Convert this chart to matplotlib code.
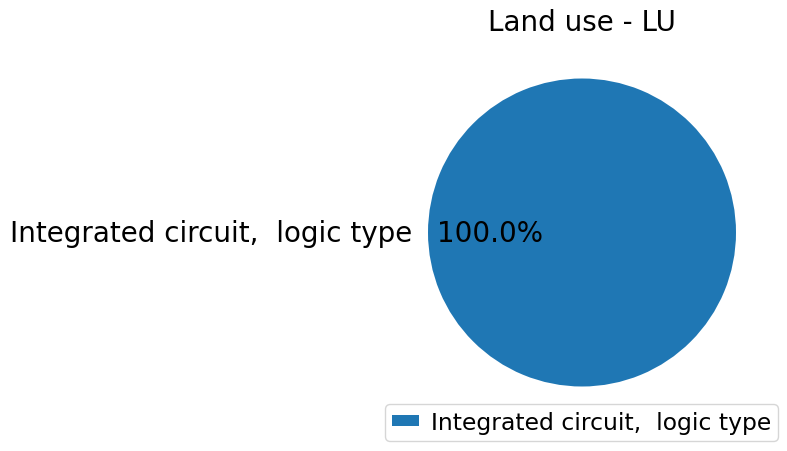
import matplotlib
matplotlib.use("Agg")
import matplotlib.pyplot as plt

labels = ["Integrated circuit,  logic type"]
values = [1.0]
title = "Land use - LU"

fig = plt.figure(figsize=(7.87, 4.52), dpi=100)
W, H = 787, 452
# axes placed so the pie sits on the right like the reference
ax = fig.add_axes([389.5 / W, 26 / H, 385 / W, 385 / H])
wedges, texts, autotexts = ax.pie(values, labels=labels, autopct="%1.1f%%",
                                  colors=["#1f77b4"], textprops={"fontsize": 20})
ax.set_xlim(-1.25, 1.25)
ax.set_ylim(-1.25, 1.25)
ax.set_aspect("equal")
ax.set_title(title, fontsize=20, pad=7.5)

fig.legend(wedges, labels, loc="lower right", fontsize=16.9,
           bbox_to_anchor=(778 / W, 10 / H), borderaxespad=0,
           handlelength=1.15, handleheight=0.4, handletextpad=0.5,
           borderpad=0.3)

fig.savefig("out.png", dpi=100)
